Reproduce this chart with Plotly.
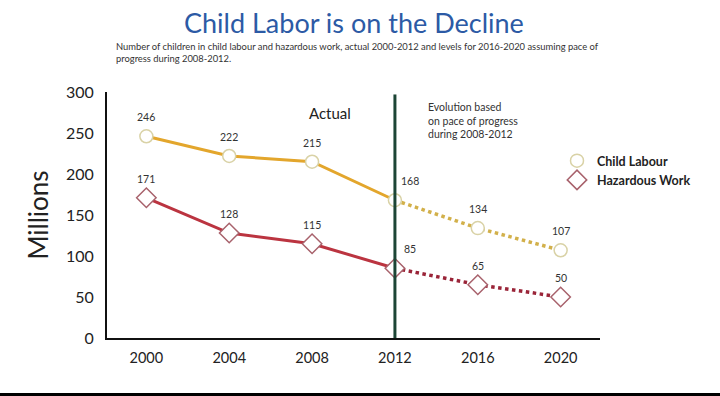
import plotly.graph_objects as go

years = [2000, 2004, 2008, 2012, 2016, 2020]
child_labour = [246, 222, 215, 168, 134, 107]
hazardous = [171, 128, 115, 85, 65, 50]
split_year = 2012
y_ticks = [0, 50, 100, 150, 200, 250, 300]

FONT = "Lato"
c_orange = "#e3a62c"
c_orange_dot = "#d2b04a"
c_red = "#bb3440"
c_red_dot = "#9a2438"

T, B = 92, 338
H = B - T
def py(pix):
    return (B - pix) / H

k = years.index(split_year)

fig = go.Figure()

fig.add_trace(go.Scatter(x=years[:k+1], y=child_labour[:k+1], mode="lines",
                         line=dict(color=c_orange, width=3), showlegend=False, hoverinfo="skip"))
fig.add_trace(go.Scatter(x=years[:k+1], y=hazardous[:k+1], mode="lines",
                         line=dict(color=c_red, width=3), showlegend=False, hoverinfo="skip"))
fig.add_trace(go.Scatter(x=years[k:], y=child_labour[k:], mode="lines",
                         line=dict(color=c_orange_dot, width=3.5, dash="dot"), showlegend=False, hoverinfo="skip"))
fig.add_trace(go.Scatter(x=years[k:], y=hazardous[k:], mode="lines",
                         line=dict(color=c_red_dot, width=3.5, dash="dot"), showlegend=False, hoverinfo="skip"))
fig.add_trace(go.Scatter(x=years, y=child_labour, mode="markers", name="<b>Child Labour</b>",
                         marker=dict(symbol="circle", size=13, color="white",
                                     line=dict(color="#d9d2a6", width=1.5))))
fig.add_trace(go.Scatter(x=years, y=hazardous, mode="markers", name="<b>Hazardous Work</b>",
                         marker=dict(symbol="diamond", size=15, color="white",
                                     line=dict(color="#a8626c", width=1.5))))

for yr, a, b in zip(years, child_labour, hazardous):
    xs = 15 if yr == split_year else 0
    for v in (a, b):
        fig.add_annotation(x=yr, y=v, text=str(v), showarrow=False, xshift=xs, yshift=19,
                           font=dict(family=FONT, size=10.5, color="#333333"))

fig.add_shape(type="line", x0=split_year, x1=split_year, y0=0, y1=297, xref="x", yref="y",
              line=dict(color="#1c4535", width=3))

fig.add_annotation(x=2008.85, y=275, xref="x", yref="y", text="Actual", showarrow=False,
                   font=dict(family=FONT, size=15, color="#222222"))
fig.add_annotation(x=2013.5, y=291, xref="x", yref="y", xanchor="left", yanchor="top",
                   align="left", showarrow=False,
                   text="Evolution based<br>on pace of progress<br>during 2008-2012",
                   font=dict(family=FONT, size=10.5, color="#333333"))

fig.add_annotation(x=0.5, y=py(4), xref="paper", yref="paper", showarrow=False,
                   text="Child Labor is on the Decline", yanchor="top",
                   font=dict(family=FONT, size=27, color="#2c5aa5"))
fig.add_annotation(x=(114 - 107) / 493, y=py(39), xref="paper", yref="paper", showarrow=False,
                   xanchor="left", yanchor="top", align="left",
                   text="Number of children in child labour and hazardous work, actual 2000-2012 and levels for 2016-2020 assuming pace of<br>progress during 2008-2012.",
                   font=dict(family=FONT, size=9.4, color="#333333"))

fig.add_shape(type="rect", xref="paper", yref="paper", x0=-1, x1=2, y0=py(393), y1=py(420),
              fillcolor="black", line=dict(width=0), layer="above")

fig.update_layout(
    width=720, height=396,
    margin=dict(l=107, r=120, t=T, b=396 - B, autoexpand=False),
    plot_bgcolor="white", paper_bgcolor="white",
    font=dict(family=FONT, color="#222222"),
    legend=dict(x=(557 - 107) / 493, y=py(146), xanchor="left", yanchor="top", bgcolor="rgba(0,0,0,0)",
                font=dict(family=FONT, size=12.5, color="#222222"), tracegroupgap=0,
                itemwidth=30),
    xaxis=dict(range=[1998.1, 2021.9], tickvals=years, ticktext=[str(y) for y in years],
               showgrid=False, zeroline=False, showline=True, linecolor="#111111", linewidth=2,
               ticks="", ticklabelstandoff=6, tickfont=dict(family=FONT, size=14.5, color="#222222")),
    yaxis=dict(range=[0, 300], tickvals=y_ticks, showgrid=False, zeroline=False,
               showline=True, linecolor="#111111", linewidth=2, ticks="",
               ticklabelstandoff=8,
               tickfont=dict(family=FONT, size=16, color="#222222"),
               title=dict(text="Millions", font=dict(family=FONT, size=26, color="#222222"), standoff=10)),
)

fig.write_html("out.html", config={"displayModeBar": False},
               post_script="document.body.style.margin='0';")
